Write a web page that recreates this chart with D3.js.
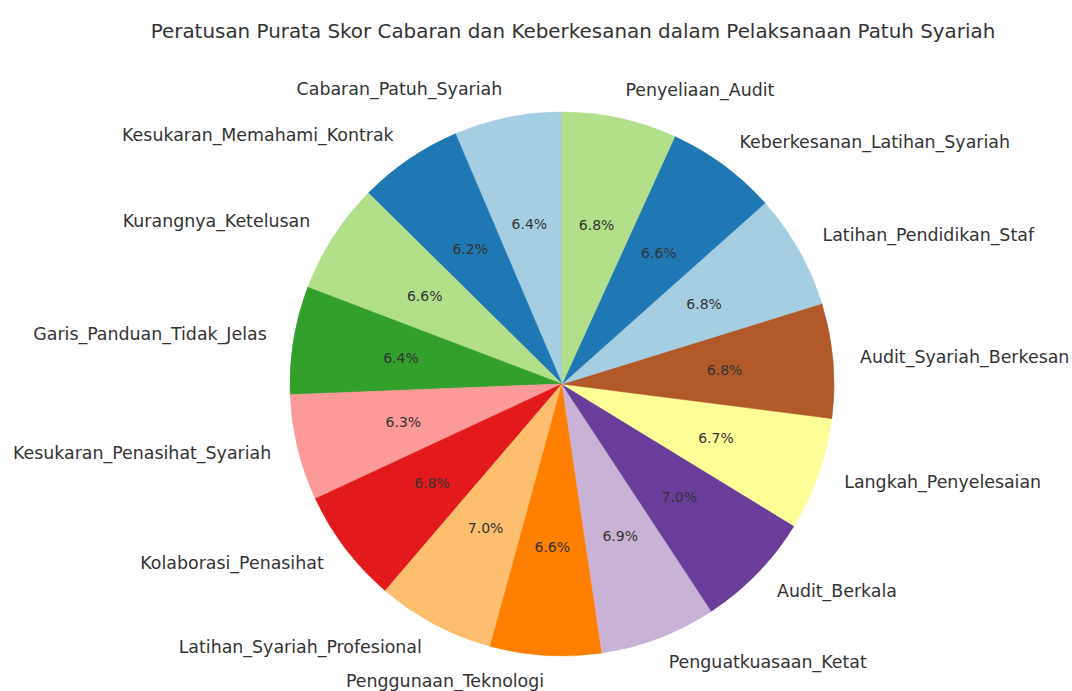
<!DOCTYPE html>
<html>
<head>
<meta charset="utf-8">
<script src="https://cdn.jsdelivr.net/npm/d3@7"></script>
<style>
  body { margin: 0; background: #fff; }
  text { font-family: "DejaVu Sans", sans-serif; }
</style>
</head>
<body>
<div class="chart-container"></div>
<script>
const title = "Peratusan Purata Skor Cabaran dan Keberkesanan dalam Pelaksanaan Patuh Syariah";

const categories = [
    "Cabaran_Patuh_Syariah", "Kesukaran_Memahami_Kontrak", "Kurangnya_Ketelusan",
    "Garis_Panduan_Tidak_Jelas", "Kesukaran_Penasihat_Syariah", "Kolaborasi_Penasihat",
    "Latihan_Syariah_Profesional", "Penggunaan_Teknologi", "Penguatkuasaan_Ketat",
    "Audit_Berkala", "Langkah_Penyelesaian", "Audit_Syariah_Berkesan",
    "Latihan_Pendidikan_Staf", "Keberkesanan_Latihan_Syariah", "Penyeliaan_Audit"
];

const values = [6.4, 6.2, 6.6, 6.4, 6.3, 6.8, 7.0, 6.6, 6.9, 7.0, 6.7, 6.8, 6.8, 6.6, 6.8];

const colors = ["#a6cee3", "#1f78b4", "#b2df8a", "#33a02c", "#fb9a99", "#e31a1c",
                "#fdbf6f", "#ff7f00", "#cab2d6", "#6a3d9a", "#ffff99", "#b15928"];

const width = 1072, height = 691;
const cx = 562, cy = 384, radius = 272;

const svg = d3.select(".chart-container").append("svg")
    .attr("width", width)
    .attr("height", height);

svg.append("text")
    .attr("x", 573)
    .attr("y", 31)
    .attr("text-anchor", "middle")
    .attr("dominant-baseline", "central")
    .attr("font-size", 19.9)
    .attr("fill", "#333")
    .text(title);

const data = categories.map((c, i) => ({ name: c, value: values[i] }));
const total = d3.sum(values);

// counterclockwise from 12 o'clock, like matplotlib startangle=90
const pie = d3.pie()
    .sort(null)
    .value(d => d.value)
    .startAngle(0)
    .endAngle(-2 * Math.PI);

const arcs = pie(data);
const arc = d3.arc().innerRadius(0).outerRadius(radius);
const color = d3.scaleOrdinal().domain(categories).range(colors);

const g = svg.append("g")
    .attr("transform", "translate(" + cx + "," + cy + ")");

g.selectAll("path")
    .data(arcs)
    .enter().append("path")
    .attr("d", arc)
    .attr("fill", d => color(d.data.name))
    .attr("stroke", d => color(d.data.name))
    .attr("stroke-width", 0.6);

const mid = d => (d.startAngle + d.endAngle) / 2;

// category labels at 1.1 r
g.selectAll(".label")
    .data(arcs)
    .enter().append("text")
    .attr("class", "label")
    .attr("x", d => Math.sin(mid(d)) * radius * 1.1)
    .attr("y", d => -Math.cos(mid(d)) * radius * 1.1 - 1.5)
    .attr("text-anchor", d => Math.sin(mid(d)) > 0 ? "start" : "end")
    .attr("dominant-baseline", "central")
    .attr("font-size", 17.4)
    .attr("fill", "#333")
    .text(d => d.data.name);

// percentages at 0.6 r
g.selectAll(".pct")
    .data(arcs)
    .enter().append("text")
    .attr("class", "pct")
    .attr("x", d => Math.sin(mid(d)) * radius * 0.6)
    .attr("y", d => -Math.cos(mid(d)) * radius * 0.6)
    .attr("text-anchor", "middle")
    .attr("dominant-baseline", "central")
    .attr("font-size", 14)
    .attr("fill", "#333")
    .text(d => (d.data.value / total * 100).toFixed(1) + "%");
</script>
</body>
</html>
